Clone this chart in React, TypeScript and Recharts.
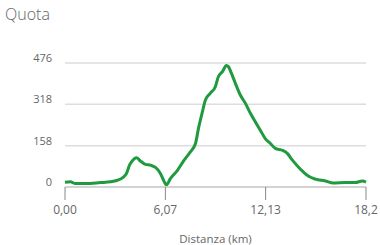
import { CartesianGrid, Line, LineChart, XAxis, YAxis } from "recharts";

// distance along the route (km) and elevation (m)
const distanceKm = [
  0, 0.33, 0.63, 1.24, 2.15, 2.75, 3.17, 3.47, 3.72, 3.9, 4.02, 4.32, 4.56, 4.86, 5.17, 5.47,
  5.77, 6.01, 6.13, 6.37, 6.8, 7.16, 7.58, 7.89, 8.07, 8.31, 8.49, 8.79, 9.09, 9.27, 9.52,
  9.76, 9.88, 10.06, 10.3, 10.6, 10.91, 11.21, 11.51, 11.81, 12.11, 12.42, 12.72, 13.14,
  13.44, 13.75, 14.11, 14.41, 14.71, 15.14, 15.74, 16.22, 16.95, 17.55, 17.98, 18.2,
];
const elevation = [
  18, 20, 13, 13, 17, 20, 26, 35, 52, 84, 96, 112, 100, 87, 84, 75,
  52, 19, 8, 32, 64, 99, 135, 167, 225, 289, 334, 360, 385, 423, 443,
  466, 462, 437, 398, 353, 321, 283, 250, 218, 186, 167, 148, 141,
  129, 103, 77, 58, 42, 30, 23, 15, 17, 17, 23, 19,
];
const xTicks = [0, 6.07, 12.13, 18.2];
const xTickLabels = ["0,00", "6,07", "12,13", "18,2"];
const yTicks = [0, 158, 318, 476];

const profile = distanceKm.map((km, i) => ({ km, quota: elevation[i] }));

const FONT = "'Open Sans', sans-serif";

function XTick({ x, y, index }: any) {
  return (
    <text x={x} y={y} dy={12} textAnchor="middle" fill="#666" fontSize={12} fontFamily={FONT}>
      {xTickLabels[index]}
    </text>
  );
}

function YTick({ x, y, payload }: any) {
  return (
    <text x={x} y={y} dy={-1} textAnchor="end" fill="#666" fontSize={11} fontFamily={FONT}>
      {payload.value}
    </text>
  );
}

export default function App() {
  return (
    <div style={{ position: "absolute", left: 0, top: 0, width: 380, height: 245, background: "#fff" }}>
      <div
        style={{
          position: "absolute",
          left: 5,
          top: 3,
          fontFamily: FONT,
          fontWeight: 300,
          fontSize: 16,
          color: "#666",
        }}
      >
        Quota
      </div>
      <LineChart
        width={380}
        height={245}
        data={profile}
        margin={{ top: 63, right: 14, bottom: 0, left: 1 }}
      >
        <CartesianGrid vertical={false} stroke="#ddd" strokeWidth={1.5} />
        <XAxis
          dataKey="km"
          type="number"
          domain={[0, 18.2]}
          ticks={xTicks}
          tick={<XTick />}
          tickSize={13}
          tickLine={{ stroke: "#888" }}
          axisLine={{ stroke: "#ccc", strokeWidth: 1.5 }}
          height={58}
          label={{
            value: "Distanza (km)",
            position: "insideBottom",
            offset: 2,
            fill: "#666",
            fontSize: 11.5,
            fontFamily: FONT,
          }}
        />
        <YAxis
          type="number"
          domain={[0, 476]}
          ticks={yTicks}
          tick={<YTick />}
          tickLine={false}
          axisLine={false}
          tickMargin={7}
          width={64}
        />
        <Line
          type="monotone"
          dataKey="quota"
          stroke="#1f9a3f"
          strokeWidth={3}
          dot={false}
          isAnimationActive={false}
        />
      </LineChart>
    </div>
  );
}
